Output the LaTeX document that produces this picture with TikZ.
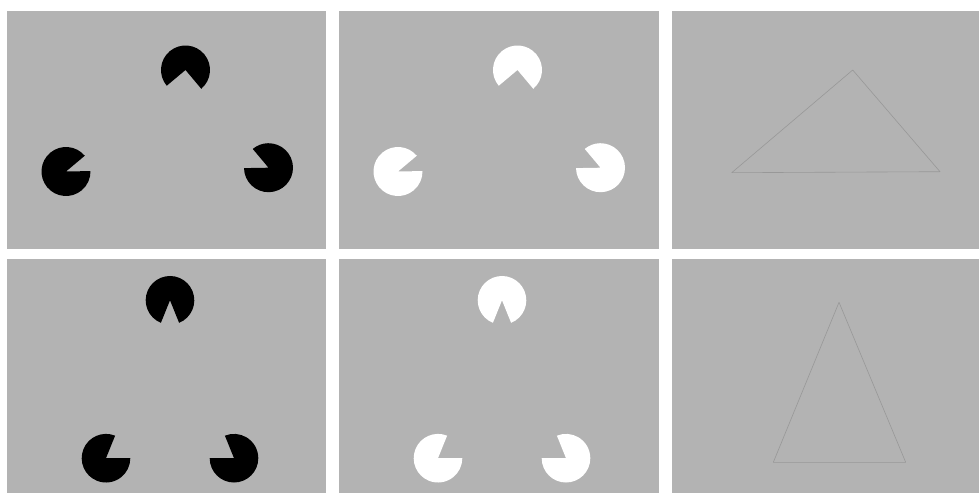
\documentclass[tikz,border=0pt]{standalone}
\usetikzlibrary{calc}
\definecolor{panelgray}{RGB}{179,179,179}
\definecolor{edgegray}{RGB}{152,152,152}
\tikzset{
    panel/.style={fill=panelgray},
    edge/.style={draw=edgegray, line width=0.6pt}
}
% pacman: centre, radius, start and end angle of the drawn arc
\newcommand{\pacman}[4]{%
    \fill (#1) -- ++(#3:#2) arc[start angle=#3, end angle=#4, radius=#2] -- cycle;}

\begin{document}
\begin{tikzpicture}[x=1pt,y=1pt,line cap=round,line join=round]

% --- geometry ---
    \def\RT{24.5}                       % radius, upper row
    \def\RB{24.3}                       % radius, lower row
    \useasboundingbox (0,0) rectangle (979,493);
    \fill[white] (0,0) rectangle (979,493);

% gray panels (2 rows, 3 columns)
    \foreach \px/\pw in {7/319, 339/320, 672/307}{
        \fill[panel] (\px,244) rectangle ++(\pw,238);
        \fill[panel] (\px,0) rectangle ++(\pw,234);
    }

% pacmen, black in the first column, white in the second
    \foreach \dx/\ink in {0/black, 332/white}{
        \begin{scope}[xshift=\dx pt, fill=\ink]
            % upper row
            \pacman{185.5,423}{\RT}{310}{580}
            \pacman{66,321.5}{\RT}{40}{361}
            \pacman{268.5,325.3}{\RT}{181}{490}
            % lower row
            \pacman{170,192.7}{\RB}{292}{608}
            \pacman{106,34.8}{\RB}{68}{360}
            \pacman{234,34.8}{\RB}{180}{472}
        \end{scope}
    }

% outline triangles (third column)
    \coordinate (UA) at (852.7,423);
    \coordinate (UL) at (731.7,320.3);
    \coordinate (UR) at (940,321.3);
    \draw[edge] (UA) -- (UL) -- (UR) -- cycle;

    \coordinate (LA) at (839,190.7);
    \coordinate (LL) at (773.3,30.7);
    \coordinate (LR) at (905.7,30.7);
    \draw[edge] (LA) -- (LL) -- (LR) -- cycle;

\end{tikzpicture}
\end{document}
